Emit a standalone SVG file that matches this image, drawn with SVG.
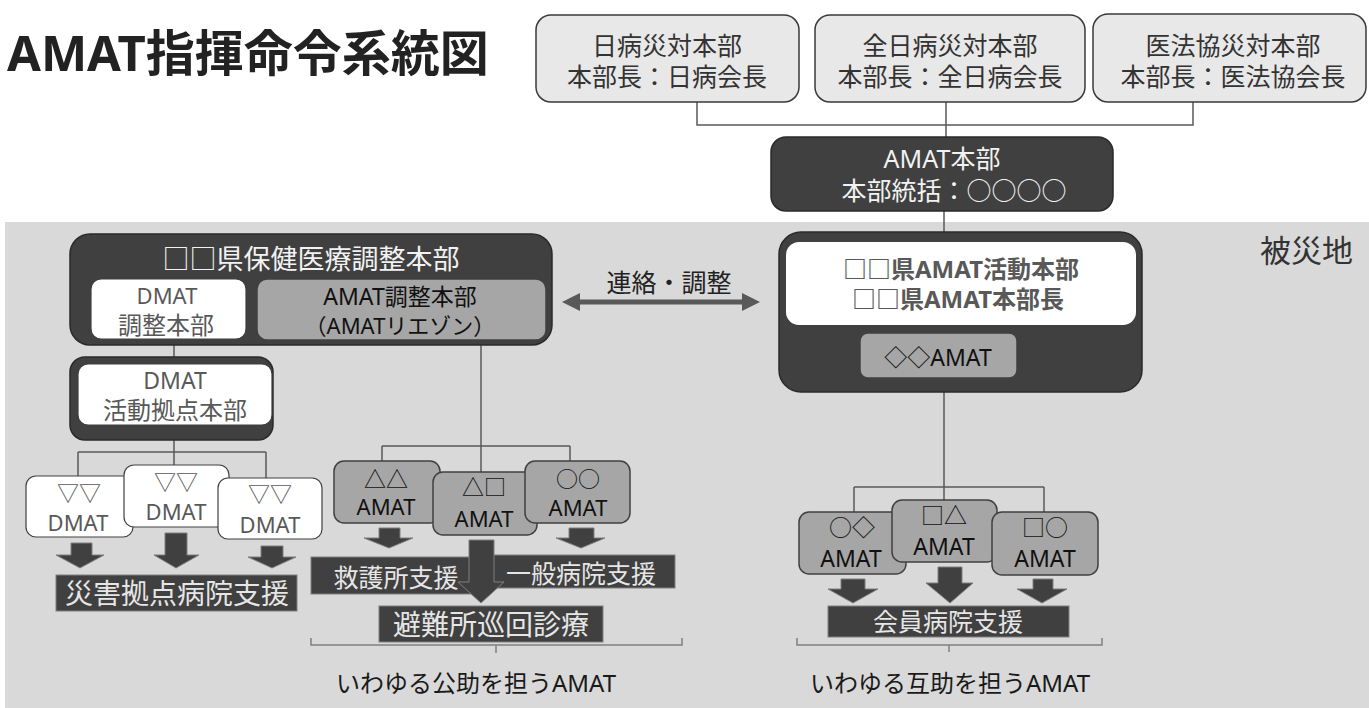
<svg xmlns="http://www.w3.org/2000/svg" width="1369" height="708" viewBox="0 0 1369 708">
<style>
text{font-family:"Noto Sans","Noto Sans CJK JP",sans-serif;}
.c{text-anchor:middle;}
.top{fill:#e8e8e8;stroke:#3a3a3a;stroke-width:1.5;}
.dark{fill:#404040;stroke:#2a2a2a;stroke-width:1.5;}
.white{fill:#ffffff;stroke:#404040;stroke-width:1.2;}
.gray{fill:#a6a6a6;stroke:#404040;stroke-width:1.5;}
.sup{fill:#404040;stroke:#808080;stroke-width:1;}
.arr{fill:#404040;stroke:#7f7f7f;stroke-width:1;}
.ln{fill:none;stroke:#5a5a5a;stroke-width:1.5;}
.br{fill:none;stroke:#808080;stroke-width:1.5;}
.tw{fill:#f2f2f2;}
.tg{fill:#595959;}
.tk{fill:#111111;}
.ts{fill:#e6e6e6;}
</style>
<rect x="0" y="0" width="1369" height="708" fill="#ffffff"/>
<rect x="5" y="222" width="1364" height="486" fill="#d9d9d9"/>
<text x="7" y="71" font-size="49" font-weight="bold" fill="#222">AMAT指揮命令系統図</text>
<text x="1260" y="262" font-size="31" fill="#333">被災地</text>

<g id="connectors">
<path class="ln" d="M697,102 V125 H1193 V102 M946,102 V138 M944,211 V232"/>
<path class="ln" d="M944,392 V500 M854,487 H1044 M854,487 V512 M1044,487 V512"/>
<path class="ln" d="M174,345 V357 M174,440 V465 M78,452 H266 M78,452 V476 M266,452 V478"/>
<path class="ln" d="M481,340 V472 M382,446 H570 M382,446 V461 M570,446 V461"/>
<polygon fill="#595959" points="562,302 580,293 580,299.5 742,299.5 742,293 760,302 742,311 742,304.5 580,304.5 580,311"/>
<text class="c" x="669" y="292" font-size="25" fill="#222">連絡・調整</text>
</g>

<g id="n-nichibyo">
<rect class="top" x="536" y="15" width="263" height="87" rx="15"/>
<text class="c" x="667" y="55" font-size="25" fill="#333">日病災対本部</text>
<text class="c" x="667" y="86" font-size="25" fill="#333">本部長：日病会長</text>
</g>
<g id="n-zennichibyo">
<rect class="top" x="815" y="15" width="270" height="87" rx="15"/>
<text class="c" x="950" y="55" font-size="25" fill="#333">全日病災対本部</text>
<text class="c" x="950" y="86" font-size="25" fill="#333">本部長：全日病会長</text>
</g>
<g id="n-ihokyo">
<rect class="top" x="1093" y="14" width="273" height="88" rx="15"/>
<text class="c" x="1233" y="55" font-size="25" fill="#333">医法協災対本部</text>
<text class="c" x="1233" y="86" font-size="25" fill="#333">本部長：医法協会長</text>
</g>
<g id="n-amat-hq">
<rect class="dark" x="771" y="137" width="342" height="74" rx="15"/>
<text class="c tw" x="942" y="168" font-size="25">AMAT本部</text>
<text class="c tw" x="954" y="200" font-size="25">本部統括：○○○○</text>
</g>
<g id="n-activity">
<rect class="dark" x="779" y="232" width="363" height="160" rx="22"/>
<rect x="786" y="242" width="350" height="83" rx="13" fill="#ffffff"/>
<text class="c tg" x="961" y="278" font-size="24" font-weight="bold">□□県AMAT活動本部</text>
<text class="c tg" x="958" y="308" font-size="24" font-weight="bold">□□県AMAT本部長</text>
<rect class="gray" x="860" y="333" width="157" height="45" rx="8"/>
<text class="c tk" x="938" y="366" font-size="23">◇◇AMAT</text>
</g>

<g id="n-prefecture">
<rect class="dark" x="70" y="234" width="482" height="111" rx="20"/>
<text class="c tw" x="311" y="269" font-size="27">□□県保健医療調整本部</text>
<rect class="white" x="91" y="279" width="155" height="60" rx="10"/>
<text class="c tg" x="167" y="304" font-size="22">DMAT</text>
<text class="c tg" x="166" y="334" font-size="24">調整本部</text>
<rect class="gray" x="257" y="279" width="289" height="61" rx="10"/>
<text class="c tk" x="400" y="305" font-size="23">AMAT調整本部</text>
<text class="c tk" x="400" y="334" font-size="22">（AMATリエゾン）</text>
</g>
<g id="n-dmat-base">
<rect class="dark" x="70" y="357" width="203" height="83" rx="15"/>
<rect class="white" x="78" y="364" width="194" height="61" rx="10"/>
<text class="c tg" x="175" y="389" font-size="23">DMAT</text>
<text class="c tg" x="175" y="419" font-size="24">活動拠点本部</text>
</g>

<g id="n-dmat1">
<rect class="white" x="26" y="476" width="107" height="61" rx="10"/>
<text class="c tg" x="79" y="501" font-size="22">▽▽</text>
<text class="c tg" x="78" y="531" font-size="22">DMAT</text>
</g>
<g id="n-dmat2">
<rect class="white" x="124" y="465" width="105" height="62" rx="10"/>
<text class="c tg" x="176" y="490" font-size="22">▽▽</text>
<text class="c tg" x="176" y="520" font-size="22">DMAT</text>
</g>
<g id="n-dmat3">
<rect class="white" x="218" y="478" width="104" height="61" rx="10"/>
<text class="c tg" x="270" y="502" font-size="22">▽▽</text>
<text class="c tg" x="270" y="533" font-size="22">DMAT</text>
</g>
<g id="arrows-dmat">
<polygon class="arr" points="71,543 92,543 92,555 104,555 80,568 56,555 71,555"/>
<polygon class="arr" points="165,533 187,533 187,555 199,555 176,568 154,555 165,555"/>
<polygon class="arr" points="261,546 283,546 283,557 296,557 272,568 248,557 261,557"/>
</g>
<g id="n-saigai">
<rect class="sup" x="56" y="575" width="241" height="36"/>
<text class="c ts" x="177" y="604" font-size="28">災害拠点病院支援</text>
</g>

<g id="n-amat-tt">
<rect class="gray" x="334" y="461" width="106" height="62" rx="10"/>
<text class="c tk" x="386" y="487" font-size="22">△△</text>
<text class="c tk" x="386" y="515" font-size="22">AMAT</text>
</g>
<g id="n-amat-ts">
<rect class="gray" x="433" y="472" width="104" height="63" rx="10"/>
<text class="c tk" x="484" y="495" font-size="22">△□</text>
<text class="c tk" x="484" y="527" font-size="22">AMAT</text>
</g>
<g id="n-amat-cc">
<rect class="gray" x="525" y="461" width="105" height="62" rx="10"/>
<text class="c tk" x="578" y="487" font-size="22">○○</text>
<text class="c tk" x="578" y="516" font-size="22">AMAT</text>
</g>
<g id="n-kyugo">
<rect class="sup" x="311" y="557" width="165" height="37"/>
<text class="c ts" x="396" y="587" font-size="25">救護所支援</text>
</g>
<g id="n-ippan">
<rect class="sup" x="476" y="555" width="199" height="33"/>
<text class="c ts" x="581" y="583" font-size="25">一般病院支援</text>
</g>
<g id="arrows-amat-left">
<polygon class="arr" points="379,528 400,528 400,538 413,538 389,548 364,538 379,538"/>
<polygon class="arr" points="569,528 594,528 594,538 605,538 581,548 556,538 569,538"/>
<polygon class="arr" points="469,540 494,540 494,582 504,582 481,603 458,582 469,582"/>
</g>
<g id="n-hinanjo">
<rect class="sup" x="379" y="606" width="224" height="36"/>
<text class="c ts" x="491" y="635" font-size="28">避難所巡回診療</text>
</g>
<path class="br" d="M311,638 V645 H682 V638 M496,645 V653"/>
<text class="c" x="476" y="692" font-size="24" fill="#1a1a1a">いわゆる公助を担うAMAT</text>

<g id="n-amat-cd">
<rect class="gray" x="799" y="512" width="107" height="62" rx="10"/>
<text class="c tk" x="852" y="536" font-size="23">○◇</text>
<text class="c tk" x="851" y="567" font-size="23">AMAT</text>
</g>
<g id="n-amat-st">
<rect class="gray" x="892" y="500" width="105" height="62" rx="10"/>
<text class="c tk" x="944" y="524" font-size="23">□△</text>
<text class="c tk" x="944" y="555" font-size="23">AMAT</text>
</g>
<g id="n-amat-sc">
<rect class="gray" x="992" y="512" width="106" height="63" rx="10"/>
<text class="c tk" x="1045" y="536" font-size="23">□○</text>
<text class="c tk" x="1045" y="567" font-size="23">AMAT</text>
</g>
<g id="arrows-amat-right">
<polygon class="arr" points="841,579 865,579 865,589 878,589 853,603 828,589 841,589"/>
<polygon class="arr" points="938,567 962,567 962,583 973,583 950,603 926,583 938,583"/>
<polygon class="arr" points="1033,579 1053,579 1053,589 1067,589 1042,603 1017,589 1033,589"/>
</g>
<g id="n-kaiin">
<rect class="sup" x="828" y="606" width="241" height="31"/>
<text class="c ts" x="948" y="631" font-size="25">会員病院支援</text>
</g>
<path class="br" d="M797,638 V645 H1102 V638 M949,645 V652"/>
<text class="c" x="950" y="692" font-size="24" fill="#1a1a1a">いわゆる互助を担うAMAT</text>
</svg>
